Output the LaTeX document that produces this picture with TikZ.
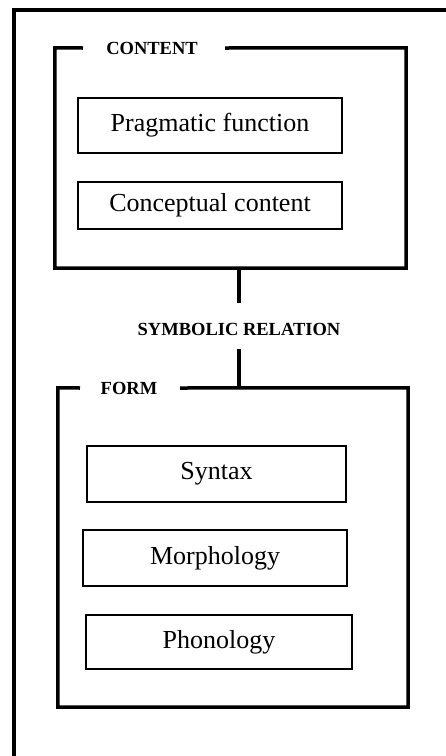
\documentclass[tikz,border=0pt]{standalone}
\usepackage{fontspec}
\setmainfont{Liberation Serif}
\usetikzlibrary{calc}
\begin{document}
\begin{tikzpicture}[x=1pt,y=-1pt,
  frameline/.style={line width=4pt},
  groupline/.style={line width=3.5pt,line join=miter},
  itembox/.style={draw,line width=1.8pt,minimum height=55pt,font=\fontsize{26}{30}\selectfont,inner sep=0pt},
  grouptitle/.style={font=\bfseries\fontsize{18.5}{22}\selectfont,inner ysep=0pt},
  linkline/.style={line width=4pt}]
\useasboundingbox (0,0) rectangle (446,756);

% outer frame: top and left rules
\coordinate (ftl) at (14,10);
\coordinate (ftr) at (446,10);
\coordinate (fbl) at (14,756);
\draw[frameline] ($(ftl)+(-2,0)$) -- (ftr);
\draw[frameline] (ftl) -- (fbl);

% CONTENT group
\node[minimum width=351pt,minimum height=220pt,inner sep=0pt] (content) at (230.5,158) {};
\node[grouptitle,inner xsep=0pt] (contentlbl) at (152,48) {CONTENT};
\coordinate (cgl) at (83,48);
\coordinate (cgr) at (225,48);
\draw[groupline] (cgl) -- (content.north west) -- (content.south west)
  -- (content.south east) -- (content.north east) -- (cgr);

\node[itembox,minimum width=264pt] (prag) at (210,125.5) {Pragmatic function};
\node[itembox,minimum width=264pt,minimum height=47pt] (concept) at (210,205.5) {Conceptual content};

% symbolic relation link
\node[grouptitle] (sym) at (239,329) {SYMBOLIC RELATION};

% FORM group
\node[minimum width=350pt,minimum height=319pt,inner sep=0pt] (form) at (233,547.5) {};
\node[grouptitle,inner xsep=0pt] (formlbl) at (129,388) {FORM};
\coordinate (fgl) at (80,388);
\coordinate (fgr) at (180,388);
\draw[groupline] (fgl) -- (form.north west) -- (form.south west)
  -- (form.south east) -- (form.north east) -- (fgr);

\node[itembox,minimum width=259pt,minimum height=56pt] (syntax) at (216.5,474) {Syntax};
\node[itembox,minimum width=264pt,minimum height=56pt] (morph) at (215,558) {Morphology};
\node[itembox,minimum width=266pt,minimum height=54pt] (phon) at (219,642) {Phonology};

\draw[linkline] (content.south -| sym) -- ($(sym.center)+(0,-26)$);
\draw[linkline] ($(sym.center)+(0,20)$) -- (form.north -| sym);
\end{tikzpicture}
\end{document}
